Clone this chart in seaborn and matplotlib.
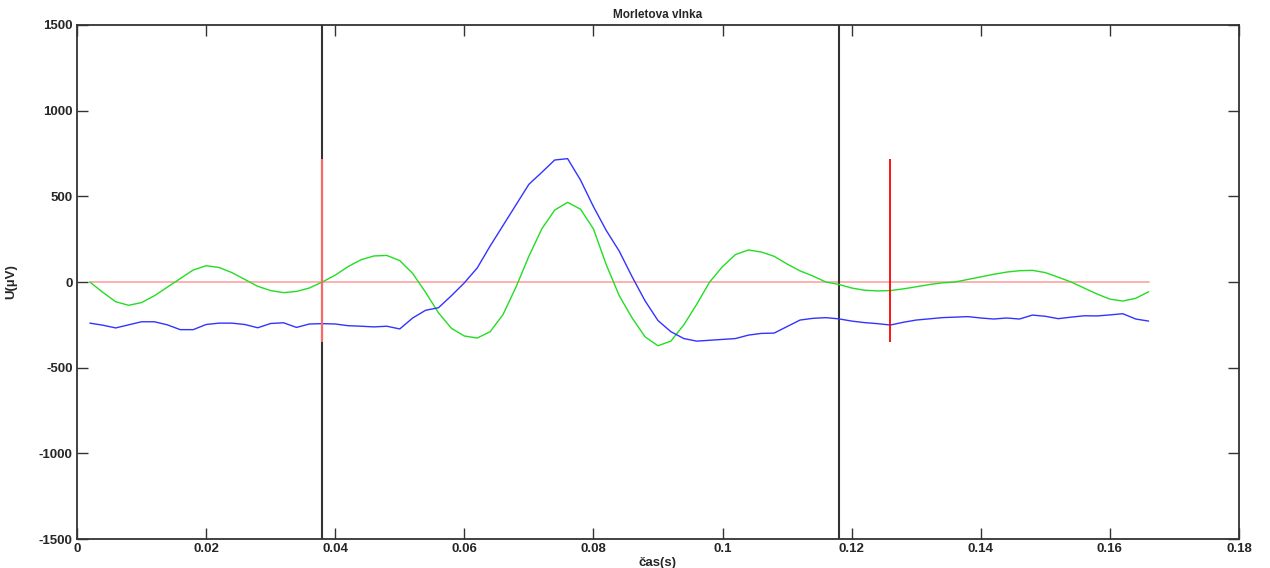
import numpy as np
import pandas as pd
import matplotlib
matplotlib.use('Agg')
import matplotlib.pyplot as plt
from matplotlib.ticker import FuncFormatter
import seaborn as sns

# casova osa (s)
t = [round(0.002 * i, 3) for i in range(1, 84)]

# signal (modra) v uV
signal = [-240, -252, -268, -250, -232, -232, -250, -278, -278, -248,
          -240, -240, -248, -267, -242, -238, -265, -245, -243, -245,
          -255, -258, -262, -258, -274, -210, -165, -150, -80, -5,
          82, 210, 330, 450, 570, 640, 712, 720, 595, 440,
          300, 180, 30, -110, -225, -290, -330, -345, -340, -335,
          -330, -310, -300, -298, -260, -222, -212, -208, -215, -228,
          -237, -243, -251, -235, -222, -215, -208, -205, -202, -210,
          -216, -210, -216, -193, -200, -214, -205, -197, -198, -192,
          -185, -216, -228]

# Morletova vlnka (zelena)
wavelet = [0, -60, -115, -136, -120, -80, -30, 20, 70, 95,
           85, 55, 15, -25, -50, -62, -55, -35, 0, 40,
           90, 130, 152, 155, 125, 50, -60, -180, -270, -315,
           -327, -290, -190, -30, 150, 310, 420, 465, 425, 310,
           100, -80, -210, -320, -372, -345, -250, -130, 0, 90,
           160, 187, 175, 150, 105, 65, 35, 0, -14, -35,
           -48, -52, -50, -40, -28, -15, -5, 0, 15, 30,
           45, 58, 66, 68, 55, 28, 0, -35, -70, -100,
           -111, -95, -57]

# hranice okna (cerne) a znacky (cervene)
okno = [0.038, 0.118]
znacky = [0.038, 0.126]
znacka_rozsah = [-350, 720]

sns.set_theme(style='white')
plt.rcParams['font.family'] = ['Liberation Sans', 'DejaVu Sans']
plt.rcParams['axes.unicode_minus'] = False
plt.rcParams['xtick.direction'] = 'in'
plt.rcParams['ytick.direction'] = 'in'

df = pd.DataFrame({'t': t, 'signal': signal, 'wavelet': wavelet})

fig = plt.figure(figsize=(12.7, 5.68), dpi=100)
ax = fig.add_axes([0.0606, 0.051, 0.915, 0.905])

# nulova cara
ax.plot([t[0], t[-1]], [0, 0], color='#ffaaaa', lw=1.3, zorder=1)

sns.lineplot(data=df, x='t', y='wavelet', color='#22dd22', lw=1.0, ax=ax, zorder=3)
sns.lineplot(data=df, x='t', y='signal', color='#3333ff', lw=1.0, ax=ax, zorder=3)

for x in okno:
    ax.axvline(x, color='#333333', lw=1.5, zorder=2)
ax.vlines(znacky[0], znacka_rozsah[0], znacka_rozsah[1], color='#ff6666', lw=1.5, zorder=4)
ax.vlines(znacky[1], znacka_rozsah[0], znacka_rozsah[1], color='#ff0000', lw=1.3, zorder=4)

ax.set_xlim(0, 0.18)
ax.set_ylim(-1500, 1500)
ax.set_xticks(np.arange(0, 0.181, 0.02))
ax.set_yticks(np.arange(-1500, 1501, 500))
ax.xaxis.set_major_formatter(FuncFormatter(lambda v, p: '%g' % round(v, 3)))
ax.tick_params(axis='both', which='major', length=8, width=1, color='#333333',
               bottom=True, left=True, top=True, right=True, labelsize=9.5, pad=3)
for lab in ax.get_xticklabels() + ax.get_yticklabels():
    lab.set_fontweight('bold')
for s in ax.spines.values():
    s.set_color('#333333')
    s.set_linewidth(1.3)

ax.set_title('Morletova vlnka', fontsize=8.5, fontweight='bold', pad=5)
ax.set_xlabel('čas(s)', fontsize=9.5, fontweight='bold', labelpad=1)
ax.set_ylabel('U(µV)', fontsize=9.5, fontweight='bold')
ax.yaxis.set_label_coords(-0.051, 0.5)

fig.savefig('out.png', dpi=100)
